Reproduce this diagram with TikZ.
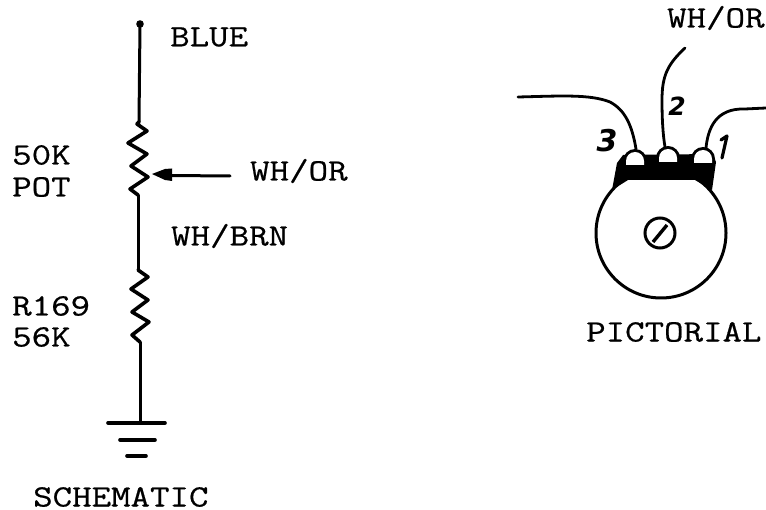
\documentclass[tikz,border=0pt]{standalone}
\usepackage{fontspec}
\newfontfamily\labfont{Latin Modern Mono}[FakeStretch=1.22,FakeBold=0.6]
\newfontfamily\handfont{DejaVu Sans}
\tikzset{
  lab/.style={anchor=west,inner sep=0pt,font=\labfont\fontsize{31}{31}\selectfont},
  hand/.style={inner sep=0pt,font=\handfont\bfseries\itshape},
  wire/.style={line width=3pt,line cap=round,line join=round},
  zig/.style={line width=3.6pt,line cap=round,line join=round},
  lead/.style={line width=2.8pt,line cap=round,line join=round},
  bar/.style={line width=3.6pt,line cap=round},
}
\begin{document}
\begin{tikzpicture}[x=1pt,y=-1pt]
\useasboundingbox (0,0) rectangle (766,510);
\fill[white] (0,0) rectangle (766,510);
% labels
\node[lab] (blue) at (170,37) {BLUE};
\node[lab] (pk) at (12,155) {50K};
\node[lab] (pot) at (12,187) {POT};
\node[lab] (wo) at (250,171) {WH/OR};
\node[lab] (wb) at (171,236) {WH/BRN};
\node[lab] (rn) at (12,306) {R169};
\node[lab] (rv) at (12,337) {56K};
\node[lab] (sch) at (33,497) {SCHEMATIC};
\node[lab] (pic) at (586,332) {PICTORIAL};
\node[lab] (wo2) at (667,18) {WH/OR};
% schematic
\coordinate (top) at (140,24);
\coordinate (gnd) at (140,423);
\fill (top) circle (3.8);
\draw[wire] (top) -- (139,122);
\draw[zig] (139,122) -- (137,124) -- (147,131) -- (128,143) -- (147,154) -- (131,166) -- (148,177) -- (130,189) -- (138,195);
\draw[wire] (138,195) -- (138,270);
\draw[zig] (138,270) -- (148,277) -- (131,289) -- (148,300) -- (132,312) -- (149,322) -- (132,335) -- (140,342);
\draw[wire] (140,342) -- (gnd);
\draw[bar] (108,423) -- (165,423);
\draw[bar] (120,440) -- (155,440);
\draw[bar] (127,456) -- (146,456);
\coordinate (atip) at (152,174);
\coordinate (atail) at (230,176);
\draw[wire] (170,175.5) -- (atail);
\fill (atip) -- (165,169) -- (172,168.5) -- (172,181) -- (165,180) -- cycle;
% pictorial
\coordinate (t3) at (635,165);
\coordinate (t2) at (668,162);
\coordinate (t1) at (703,163);
\draw[line width=3pt] (661,233) circle (65);
\fill (617,163) -- (623,155) -- (712,154) -- (716,162) -- (712,190) -- (695,180) -- (628,180) -- (612,190) -- cycle;
\foreach \c in {t3,t2,t1}{
  \fill (\c) ++(-12,1) -- ++(0,-5) arc[start angle=180,end angle=360,radius=12] -- ++(0,5) -- cycle;
  \fill[white] (\c) ++(-9,0) -- ++(0,-4) arc[start angle=180,end angle=360,radius=9] -- ++(0,4) -- cycle;
}
\draw[lead] (518,97) .. controls (560,96) and (590,94) .. (610,102) .. controls (625,110) and (632,125) .. (636,149);
\draw[lead] (685,48) .. controls (668,64) and (662,75) .. (662,100) .. controls (662,120) and (663,135) .. (665,147);
\draw[lead] (706,148) .. controls (708,128) and (716,108) .. (745,109) -- (766,108);
\draw[line width=3pt] (660,233) circle (15);
\draw[line width=3.4pt] (653,242) -- (667,225);
\node[hand,font=\handfont\bfseries\itshape\fontsize{30}{30}\selectfont] (n3) at (607,141) {3};
\node[hand,font=\handfont\bfseries\itshape\fontsize{25}{25}\selectfont] (n2) at (677,106) {2};
\draw[line width=3.2pt,line cap=round,line join=round] (721,140) -- (727,136) -- (722,158);
\end{tikzpicture}
\end{document}
